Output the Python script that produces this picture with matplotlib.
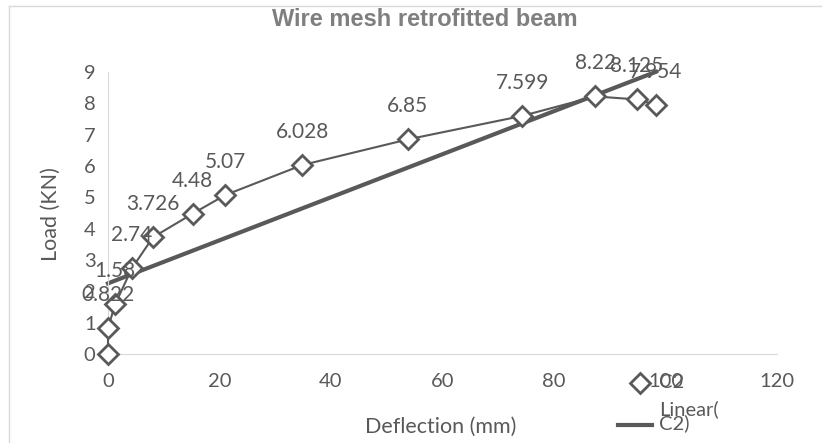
import numpy as np
import matplotlib.pyplot as plt
from matplotlib.lines import Line2D

# deflection (mm) and load (KN)
deflection = [0, 0, 1.26, 4.3, 8.07, 15.2, 21.0, 34.8, 53.8, 74.3, 87.4, 94.9, 98.3]
load = [0, 0.822, 1.58, 2.74, 3.726, 4.48, 5.07, 6.028, 6.85, 7.599, 8.22, 8.125, 7.954]
point_labels = ['', '0.822', '1.58', '2.74', '3.726', '4.48', '5.07', '6.028',
                '6.85', '7.599', '8.22', '8.125', '7.954']
x_ticks = [0, 20, 40, 60, 80, 100, 120]
y_ticks = [0, 1, 2, 3, 4, 5, 6, 7, 8, 9]

grey = '#595959'
light = '#d9d9d9'
plt.rcParams['font.family'] = ['Lato', 'DejaVu Sans']

W, H = 822, 443
fig = plt.figure(figsize=(W / 100, H / 100), dpi=100)
ax = fig.add_axes([108 / W, 1 - 354 / H, (777 - 108) / W, (354 - 72) / H])

ax.plot(deflection, load, color=grey, lw=1.5, marker='D', markersize=10,
        markerfacecolor='white', markeredgecolor=grey, markeredgewidth=2,
        clip_on=False, zorder=3)

# linear trendline (least squares)
slope, intercept = np.polyfit(deflection, load, 1)
xs = np.array([min(deflection), max(deflection)])
ax.plot(xs, slope * xs + intercept, color=grey, lw=3, clip_on=False, zorder=2)

for x, y, t in zip(deflection, load, point_labels):
    if t:
        ax.annotate(t, (x, y), xytext=(0, 33), textcoords='offset pixels',
                    ha='center', va='center', fontsize=15, color=grey, zorder=4)

ax.set_xlim(0, 120)
ax.set_ylim(0, 9)
ax.set_xticks(x_ticks)
ax.set_yticks(y_ticks)
ax.tick_params(length=0, labelsize=14.5, labelcolor=grey)
ax.tick_params(axis='x', pad=14)
ax.tick_params(axis='y', pad=9)
for s in ['top', 'right']:
    ax.spines[s].set_visible(False)
for s in ['left', 'bottom']:
    ax.spines[s].set_color(light)

fig.text(425 / W, 1 - 20 / H, 'Wire mesh retrofitted beam', ha='center', va='center',
         fontsize=17, fontweight='bold', color='#7f7f7f', family='Liberation Sans')
fig.text(51 / W, 1 - 214 / H, 'Load (KN)', rotation=90, ha='center', va='center',
         fontsize=15.5, color=grey)
fig.text(441 / W, 1 - 427 / H, 'Deflection (mm)', ha='center', va='center',
         fontsize=15.5, color=grey)

# chart frame (top and left edges visible)
fig.add_artist(Line2D([9 / W, 1], [1 - 6 / H] * 2, color=light, lw=1))
fig.add_artist(Line2D([9 / W] * 2, [0, 1 - 6 / H], color=light, lw=1))

# legend, squeezed into the bottom right as in the original
fig.add_artist(Line2D([640 / W], [1 - 383 / H], ls='none', marker='D', markersize=10,
                      markerfacecolor='white', markeredgecolor=grey, markeredgewidth=2))
fig.text(659 / W, 1 - 383 / H, 'C2', ha='left', va='center', fontsize=14.5, color=grey)
fig.add_artist(Line2D([618 / W, 652 / W], [1 - 425 / H] * 2, color=grey, lw=3))
fig.text(659 / W, 1 - 416 / H, 'Linear(\nC2)', ha='left', va='center', fontsize=14.5,
         color=grey, linespacing=0.75)

fig.savefig('out.png', dpi=100)
